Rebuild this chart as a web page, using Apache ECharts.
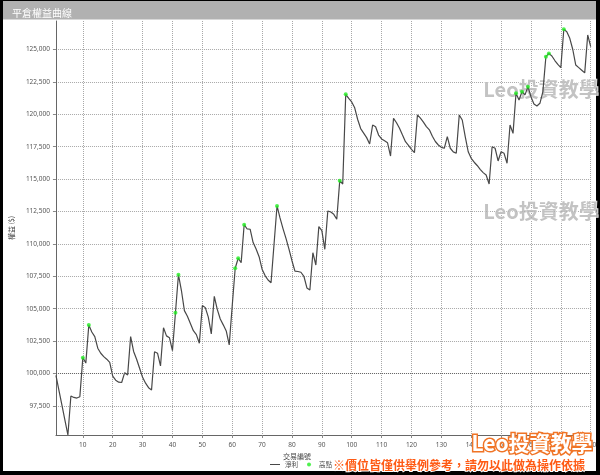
<!DOCTYPE html>
<html><head><meta charset="utf-8">
<script src="https://cdn.jsdelivr.net/npm/echarts@6/dist/echarts.min.js"></script>
<style>
html,body{margin:0;padding:0;background:#000;}
#frame{position:absolute;left:0;top:0;width:600px;height:475px;background:#000;}
#inner{position:absolute;left:3px;top:1px;width:593px;height:470px;background:#fff;}
#chart{position:absolute;left:0;top:0;width:600px;height:475px;}
</style></head>
<body>
<div id="frame"><div id="inner"></div></div>
<div id="chart"></div>
<script>
// 淨利 (equity after each closed trade), trade #1..#180
const equity = [
  99850, 98700, 97550, 96400, 95250, 98260, 98150, 98100, 98200, 101220,
  100800, 103740, 103200, 102840, 101950, 101560, 101300, 101100, 100850, 99800,
  99480, 99330, 99300, 100060, 99880, 102840, 101700, 101100, 100400, 99700,
  99250, 98900, 98730, 101680, 101560, 100580, 103530, 102900, 102750, 101760,
  104690, 107620, 106400, 104850, 104420, 103850, 103300, 103000, 102330, 105250,
  105080, 104350, 103050, 105950, 104950, 104200, 103750, 103280, 102200, 105200,
  108120, 108890, 108550, 111480, 111150, 111130, 110100, 109600, 109010, 108050,
  107550, 107210, 107000, 109970, 112925, 112000, 111180, 110420, 109600, 108700,
  107900, 107870, 107810, 107500, 106600, 106440, 109320, 108370, 111330, 111020,
  109580, 112540, 112460, 112280, 111900, 114880, 114620, 121540, 121235, 120950,
  120500, 119600, 118900, 118550, 118200, 117710, 119175, 119040, 118400, 118100,
  117950, 117800, 116780, 119690, 119350, 118920, 118400, 117890, 117600, 117300,
  117040, 119950, 119700, 119400, 119050, 118800, 118300, 117900, 117630, 117450,
  117380, 118270, 117380, 117100, 116990, 119950, 119560, 118270, 117110, 116600,
  116300, 116050, 115750, 115500, 115320, 114620, 117500, 117380, 116400, 117110,
  116990, 116220, 119175, 118530, 121620, 121100, 121745, 121500, 122130, 121360,
  120800, 120640, 120850, 121750, 124445, 124700, 124500, 124150, 123850, 123600,
  126560, 126370, 125860, 125000, 123800, 123600, 123400, 123200, 126120, 125220
];
// 高點 (new equity highs), trade numbers
const highTrades = [10, 12, 41, 42, 61, 62, 64, 75, 96, 98, 155, 157, 159, 165, 166, 171];
const yTicks = [97500, 100000, 102500, 105000, 107500, 110000, 112500, 115000, 117500, 120000, 122500, 125000];
const xTicks = [10, 20, 30, 40, 50, 60, 70, 80, 90, 100, 110, 120, 130, 140, 150, 160, 170, 180];
const startEquity = 100000;
const yMin = 95250, yMax = 127200;

const lineData = equity.map((v, i) => [i + 1, v]);
const highData = highTrades.map(n => [n, equity[n - 1]]);

const cjk = '"Noto Sans CJK TC", "Noto Sans", sans-serif';
const chart = echarts.init(document.getElementById('chart'), null, {renderer: 'canvas'});
chart.setOption({
  backgroundColor: 'transparent',
  animation: false,
  title: {
    text: '平倉權益曲線', left: 7, top: 3, z: 10,
    textStyle: {color: '#ffffff', fontSize: 10, fontWeight: 'normal', fontFamily: cjk}
  },
  grid: {left: 54.5, top: 21, width: 536.2, height: 414, containLabel: false},
  xAxis: {
    type: 'value', min: 1, max: 180,
    axisLine: {show: true, lineStyle: {color: '#666', width: 1}},
    axisTick: {show: true, length: 3, customValues: xTicks, lineStyle: {color: '#888'}},
    axisLabel: {customValues: xTicks, fontSize: 6.5, color: '#555', margin: 7, fontFamily: '"Noto Sans", sans-serif'},
    splitLine: {show: true, lineStyle: {type: 'dotted', color: '#a8a8a8', width: 1}}
  },
  yAxis: {
    type: 'value', min: yMin, max: yMax,
    name: '權益 ($)', nameLocation: 'middle', nameGap: 30, nameRotate: 90,
    nameTextStyle: {fontSize: 7, color: '#444', fontFamily: cjk},
    axisLine: {show: true, lineStyle: {color: '#666', width: 1}},
    axisTick: {show: true, length: 3, customValues: yTicks, lineStyle: {color: '#888'}},
    axisLabel: {customValues: yTicks, fontSize: 6.5, color: '#555', margin: 6, fontFamily: '"Noto Sans", sans-serif'},
    splitLine: {show: true, lineStyle: {type: 'dotted', color: '#a8a8a8', width: 1}}
  },
  legend: {
    left: 268, top: 459, itemWidth: 10, itemHeight: 7, itemGap: 6, padding: 2,
    textStyle: {fontSize: 6.5, color: '#444', fontFamily: cjk},
    data: [
      {name: '淨利', icon: 'path://M0,0M0,3L10,3L10,4L0,4ZM10,7'},
      {name: '高點', icon: 'path://M0,0M7,3.5A2,2,0,1,1,3,3.5A2,2,0,1,1,7,3.5ZM10,7'}
    ]
  },
  series: [
    {
      name: '淨利', type: 'line', data: lineData, symbol: 'none', z: 3,
      itemStyle: {color: '#484848'},
      lineStyle: {color: '#484848', width: 1.2},
      markLine: {
        silent: true, symbol: 'none', label: {show: false},
        lineStyle: {type: 'dotted', color: '#666', width: 1},
        data: [{yAxis: startEquity}]
      }
    },
    {
      name: '高點', type: 'scatter', data: highData, symbol: 'circle', symbolSize: 4, z: 4,
      itemStyle: {color: '#22ee22'}
    }
  ],
  graphic: [
    {type: 'rect', z: 0, shape: {x: 3, y: 1, width: 593, height: 18.5}, style: {fill: '#b1b1b1'}},
    {type: 'text', z: 5, x: 297, y: 456,
      style: {text: '交易編號', font: '7px ' + cjk, fill: '#444', textAlign: 'center', textVerticalAlign: 'middle', align: 'center', verticalAlign: 'middle'}},
    {type: 'text', z: 1, x: 541, y: 89,
      style: {text: 'Leo投資教學', font: 'bold 20px ' + cjk, fill: 'rgba(175,175,175,0.75)', stroke: 'rgba(255,255,255,0.9)', lineWidth: 1.5,
        textAlign: 'center', textVerticalAlign: 'middle', align: 'center', verticalAlign: 'middle'}},
    {type: 'text', z: 1, x: 541, y: 211,
      style: {text: 'Leo投資教學', font: 'bold 20px ' + cjk, fill: 'rgba(175,175,175,0.75)', stroke: 'rgba(255,255,255,0.9)', lineWidth: 1.5,
        textAlign: 'center', textVerticalAlign: 'middle', align: 'center', verticalAlign: 'middle'}},
    {type: 'text', z: 100, x: 532, y: 443,
      style: {text: 'Leo投資教學', font: 'bold 21px ' + cjk, fill: '#ffffff', stroke: '#f07426', lineWidth: 3,
        shadowBlur: 3, shadowColor: '#f7a86a',
        textAlign: 'center', textVerticalAlign: 'middle', align: 'center', verticalAlign: 'middle'}},
    {type: 'text', z: 100, x: 333, y: 465,
      style: {text: '※價位皆僅供舉例參考，請勿以此做為操作依據', font: 'bold 12px ' + cjk, fill: '#ff5a14', stroke: '#ffffff', lineWidth: 2,
        shadowBlur: 2, shadowColor: '#f7a86a',
        textAlign: 'left', textVerticalAlign: 'middle', align: 'left', verticalAlign: 'middle'}}
  ]
});
</script>
</body></html>
